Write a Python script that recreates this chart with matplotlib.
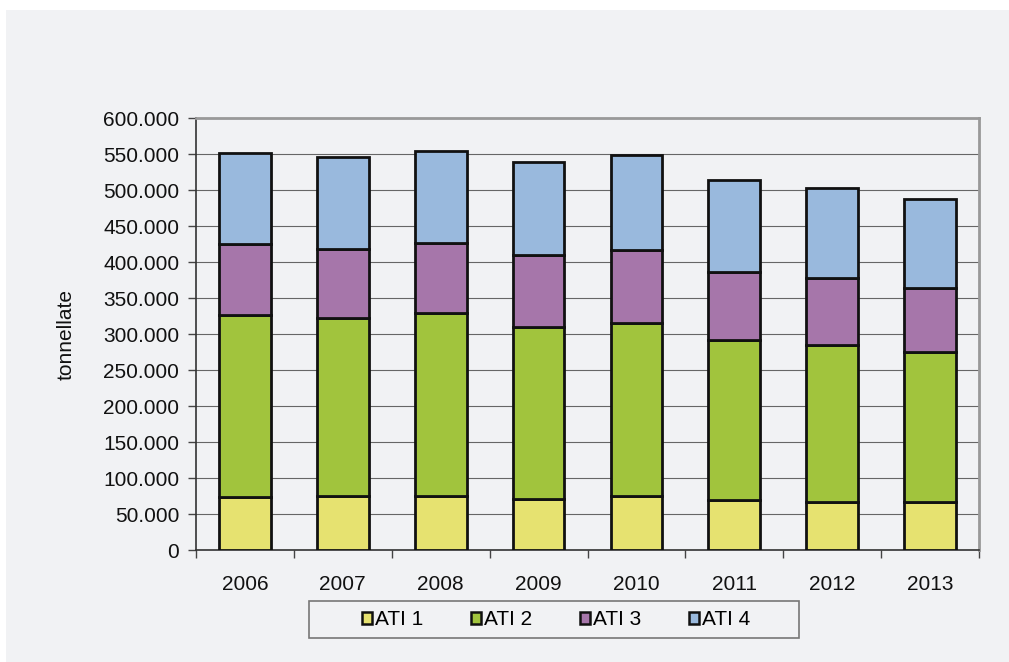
import numpy as np
import matplotlib
matplotlib.use('Agg')
import matplotlib.pyplot as plt
from matplotlib.patches import Rectangle, Patch
from matplotlib.ticker import FuncFormatter, MultipleLocator

# tonnellate per anno, suddivise per ATI
anni = ['2006', '2007', '2008', '2009', '2010', '2011', '2012', '2013']
ati1 = [74000, 74500, 75000, 71300, 74500, 69400, 67000, 66000]
ati2 = [252400, 248200, 253700, 238900, 240800, 221800, 218200, 209000]
ati3 = [98600, 95300, 98300, 99100, 101400, 95400, 92100, 89300]
ati4 = [126800, 127800, 127000, 129100, 131400, 126800, 125700, 123200]

serie = [('ATI 1', ati1, '#e6e270'),
         ('ATI 2', ati2, '#a1c43d'),
         ('ATI 3', ati3, '#a676aa'),
         ('ATI 4', ati4, '#99b9dd')]

bg = '#f1f2f4'
plt.rcParams['font.family'] = ['Liberation Sans', 'DejaVu Sans']

fig = plt.figure(figsize=(10.09, 6.62), dpi=100)
fig.patch.set_facecolor('white')
# pannello grigio (bordo bianco sopra e a sinistra)
fig.patches.append(Rectangle((6 / 1009, 0), 1, 1 - 10 / 662, transform=fig.transFigure,
                             facecolor=bg, edgecolor='none', zorder=-10))

ax = fig.add_axes([196 / 1009, 112 / 662, 783 / 1009, 432 / 662])
ax.set_facecolor(bg)

x = np.arange(len(anni))
bottom = np.zeros(len(anni))
for nome, valori, colore in serie:
    ax.bar(x, valori, width=0.53, bottom=bottom, color=colore,
           edgecolor='#111111', linewidth=2.0, label=nome, zorder=3)
    bottom += np.array(valori)

ax.set_xlim(-0.5, len(anni) - 0.5)
ax.set_ylim(0, 600000)
ax.yaxis.set_major_locator(MultipleLocator(50000))
ax.yaxis.set_major_formatter(FuncFormatter(lambda v, p: f'{int(v):,}'.replace(',', '.')))
ax.grid(axis='y', color='#666666', linewidth=0.8, zorder=0)
ax.set_axisbelow(True)

ax.set_xticks(x)
ax.set_xticklabels(anni)
ax.set_xticks(np.arange(-0.5, len(anni)), minor=True)
ax.tick_params(axis='x', which='major', length=0, pad=18, labelsize=15, colors='#111111')
ax.tick_params(axis='x', which='minor', length=6, width=1, color='#444444')
ax.tick_params(axis='y', length=6, width=1, color='#444444', pad=6, labelsize=15,
               labelcolor='#111111')

for lato in ['left', 'bottom']:
    ax.spines[lato].set_color('#333333')
    ax.spines[lato].set_linewidth(1.2)
for lato in ['top', 'right']:
    ax.spines[lato].set_color('#999999')
    ax.spines[lato].set_linewidth(2)

ax.set_ylabel('tonnellate', fontsize=15, color='#111111', labelpad=20)

# legenda in un riquadro sotto il grafico
fig.patches.append(Rectangle((309 / 1009, 1 - 638 / 662), 490 / 1009, 37 / 662,
                             transform=fig.transFigure, facecolor=bg,
                             edgecolor='#777777', linewidth=1.2, zorder=1))
handles = [Patch(facecolor=c, edgecolor='#111111', linewidth=1.8) for _, _, c in serie]
fig.legend(handles, [s[0] for s in serie], loc='center', ncol=4,
           bbox_to_anchor=(556 / 1009, 1 - 619.5 / 662), frameon=False, fontsize=15,
           handlelength=0.5, handleheight=0.5, handletextpad=0.12, columnspacing=2.3)

fig.savefig('out.png', dpi=100, facecolor=fig.get_facecolor())
